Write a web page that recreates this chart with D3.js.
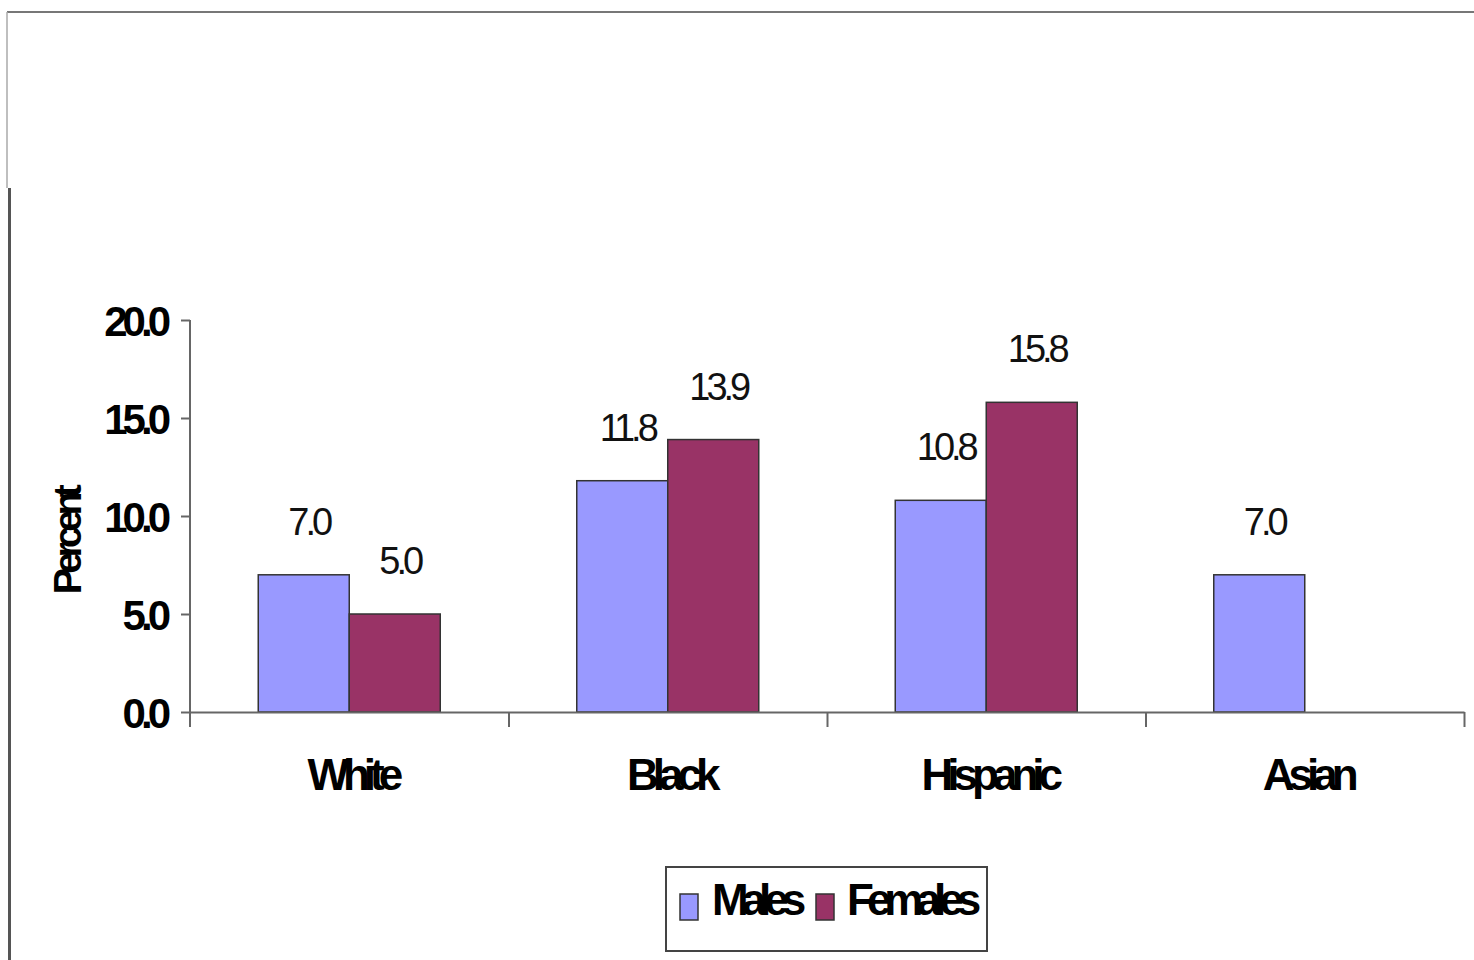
<!DOCTYPE html>
<html>
<head>
<meta charset="utf-8">
<script src="https://cdn.jsdelivr.net/npm/d3@7"></script>
<style>
  html, body { margin: 0; padding: 0; background: #fff; }
  svg { display: block; font-family: "Liberation Sans", Arial, sans-serif; }
</style>
</head>
<body>
<svg id="chart" width="1474" height="960"></svg>
<script>
// Percent by race/ethnicity, split by sex
const categories = ["White", "Black", "Hispanic", "Asian"];
const seriesNames = ["Males", "Females"];
const males = [7.0, 11.8, 10.8, 7.0];
const females = [5.0, 13.9, 15.8, null];
const yTicks = [0, 5, 10, 15, 20];
const yTitle = "Percent";
const colors = { Males: "#9999FF", Females: "#993366" };

const svg = d3.select("#chart");

// outer frame edges
svg.append("line").attr("x1", 7).attr("x2", 1474).attr("y1", 12).attr("y2", 12)
  .attr("stroke", "#777").attr("stroke-width", 2);
svg.append("line").attr("x1", 7).attr("x2", 7).attr("y1", 12).attr("y2", 188)
  .attr("stroke", "#aaa").attr("stroke-width", 1.5);
svg.append("line").attr("x1", 9.5).attr("x2", 9.5).attr("y1", 188).attr("y2", 960)
  .attr("stroke", "#555").attr("stroke-width", 3);

const plot = { left: 190, right: 1464, top: 320, bottom: 712 };

const x = d3.scaleBand().domain(categories).range([plot.left, plot.right]).padding(0);
const xSub = d3.scaleBand().domain(seriesNames).range([0, x.bandwidth()])
  .paddingInner(0).paddingOuter(0.75);
const y = d3.scaleLinear().domain([0, 20]).range([plot.bottom, plot.top]);

const rows = categories.map((c, i) => ({ cat: c, Males: males[i], Females: females[i] }));

// bars
const groups = svg.append("g").selectAll("g").data(rows).join("g")
  .attr("transform", d => `translate(${x(d.cat)},0)`);

const barData = d => seriesNames
  .map(s => ({ s, v: d[s] }))
  .filter(b => b.v !== null && b.v !== undefined);

groups.selectAll("rect").data(barData).join("rect")
  .attr("x", b => xSub(b.s))
  .attr("y", b => y(b.v))
  .attr("width", xSub.bandwidth())
  .attr("height", b => y(0) - y(b.v))
  .attr("fill", b => colors[b.s])
  .attr("stroke", "#333")
  .attr("stroke-width", 1.5);

// value labels
groups.selectAll("text.val").data(barData).join("text")
  .attr("class", "val")
  .attr("x", b => xSub(b.s) + xSub.bandwidth() / 2 + 5)
  .attr("y", b => y(b.v) - 40)
  .attr("text-anchor", "middle")
  .attr("font-size", 38)
  .attr("letter-spacing", -4)
  .attr("fill", "#111")
  .text(b => b.v.toFixed(1));

// y axis
const yAxis = svg.append("g")
  .attr("transform", `translate(${plot.left},0)`)
  .call(d3.axisLeft(y).tickValues(yTicks).tickFormat(d3.format(".1f")).tickSize(9).tickPadding(15));
yAxis.select(".domain").remove();
yAxis.selectAll("line").attr("stroke", "#666").attr("stroke-width", 2);
yAxis.selectAll("text")
  .attr("font-size", 42).attr("font-weight", "bold").attr("letter-spacing", -5)
  .attr("fill", "#000").attr("dy", "0.36em");
yAxis.append("line").attr("x1", 0).attr("x2", 0)
  .attr("y1", plot.top).attr("y2", plot.bottom + 15)
  .attr("stroke", "#666").attr("stroke-width", 2);

// x axis with ticks on category boundaries
const xEdge = d3.scaleLinear().domain([0, categories.length]).range([plot.left, plot.right]);
const xAxis = svg.append("g")
  .attr("transform", `translate(0,${plot.bottom})`)
  .call(d3.axisBottom(xEdge).tickValues(d3.range(1, categories.length + 1))
    .tickSize(15).tickSizeOuter(0).tickFormat(""));
xAxis.select(".domain").attr("stroke", "#666").attr("stroke-width", 2);
xAxis.selectAll("line").attr("stroke", "#666").attr("stroke-width", 2);

// category labels
const xLab = svg.append("g")
  .attr("transform", `translate(0,${plot.bottom})`)
  .call(d3.axisBottom(x).tickSize(0).tickPadding(0));
xLab.select(".domain").remove();
xLab.selectAll("text")
  .attr("y", 78).attr("dy", 0)
  .attr("dx", 3)
  .attr("font-size", 44).attr("font-weight", "bold").attr("letter-spacing", -6)
  .attr("fill", "#000");

// y title
svg.append("text")
  .attr("transform", "translate(81,542) rotate(-90)")
  .attr("text-anchor", "middle")
  .attr("font-size", 39).attr("font-weight", "bold").attr("letter-spacing", -5.5)
  .attr("fill", "#000")
  .text(yTitle);

// legend
const legend = svg.append("g");
legend.append("rect").attr("x", 666).attr("y", 867).attr("width", 321).attr("height", 84)
  .attr("fill", "#fff").attr("stroke", "#444").attr("stroke-width", 2);
const legendItems = [
  { s: "Males", sx: 680, tx: 712 },
  { s: "Females", sx: 816, tx: 847 }
];
legend.selectAll("rect.sw").data(legendItems).join("rect")
  .attr("class", "sw")
  .attr("x", d => d.sx).attr("y", 894).attr("width", 18).attr("height", 26)
  .attr("fill", d => colors[d.s]).attr("stroke", "#333").attr("stroke-width", 1.5);
legend.selectAll("text").data(legendItems).join("text")
  .attr("x", d => d.tx).attr("y", 915)
  .attr("font-size", 44).attr("font-weight", "bold").attr("letter-spacing", -7)
  .attr("fill", "#000")
  .text(d => d.s);
</script>
</body>
</html>
